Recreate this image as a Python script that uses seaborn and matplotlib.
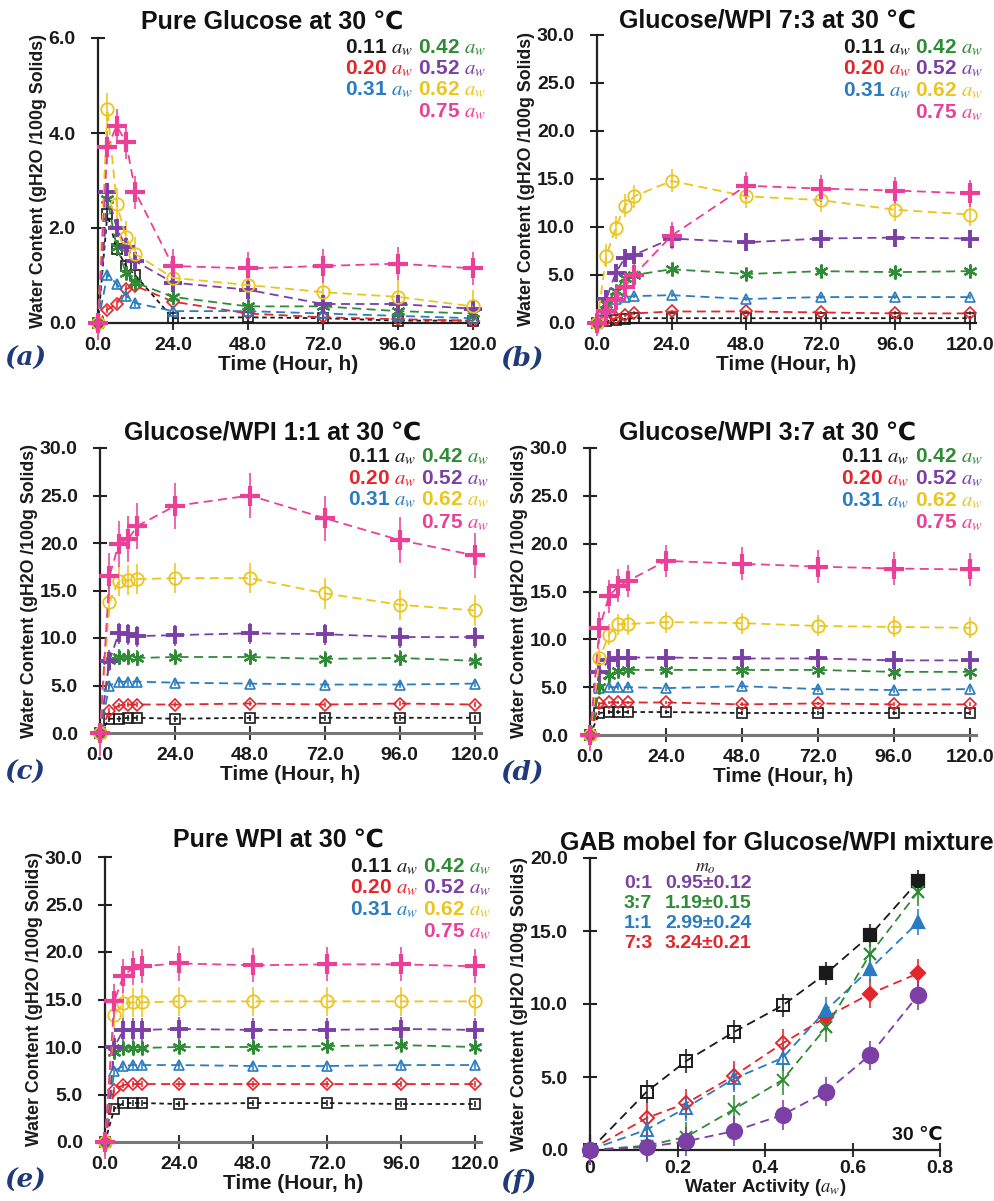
import numpy as np
import pandas as pd
import matplotlib
matplotlib.use("Agg")
import matplotlib.pyplot as plt
from matplotlib.ticker import FormatStrFormatter, FuncFormatter, FixedLocator
import seaborn as sns

# ---------------- data ----------------
times = [0, 3, 6, 9, 12, 24, 48, 72, 96, 120]
aw_levels = ["0.11", "0.20", "0.31", "0.42", "0.52", "0.62", "0.75"]

# (a) Pure glucose
glucose_wc = [
    [0, 2.30, 1.55, 1.20, 1.00, 0.10, 0.12, 0.10, 0.05, 0.05],
    [0, 0.28, 0.40, 0.72, 0.78, 0.45, 0.20, 0.12, 0.08, 0.05],
    [0, 1.02, 0.82, 0.57, 0.42, 0.25, 0.25, 0.20, 0.15, 0.10],
    [0, 2.60, 1.60, 1.05, 0.85, 0.55, 0.35, 0.35, 0.25, 0.20],
    [0, 2.75, 2.00, 1.60, 1.30, 0.85, 0.70, 0.40, 0.40, 0.30],
    [0, 4.50, 2.50, 1.80, 1.45, 0.95, 0.80, 0.65, 0.55, 0.35],
    [0, 3.70, 4.15, 3.80, 2.75, 1.20, 1.15, 1.20, 1.25, 1.15],
]
glucose_err = [0.15, 0.08, 0.08, 0.15, 0.20, 0.35, 0.35]

# (b) Glucose/WPI 7:3
g73_wc = [
    [0, 0.2, 0.3, 0.4, 0.5, 0.5, 0.5, 0.5, 0.5, 0.5],
    [0, 0.3, 0.5, 0.8, 1.0, 1.2, 1.2, 1.1, 1.0, 1.0],
    [0, 1.5, 2.5, 2.7, 2.8, 2.9, 2.5, 2.7, 2.7, 2.7],
    [0, 2.0, 3.3, 4.7, 5.0, 5.6, 5.1, 5.4, 5.3, 5.4],
    [0, 2.5, 5.2, 6.8, 7.1, 8.8, 8.4, 8.8, 8.9, 8.8],
    [0, 7.0, 9.9, 12.2, 13.2, 14.8, 13.2, 12.8, 11.8, 11.3],
    [0, 1.2, 2.4, 3.8, 5.0, 9.1, 14.3, 14.0, 13.8, 13.5],
]
g73_err = [0.1, 0.2, 0.2, 0.3, 0.8, 1.2, 1.4]

# (c) Glucose/WPI 1:1
g11_wc = [
    [0, 1.5, 1.5, 1.6, 1.6, 1.5, 1.6, 1.6, 1.6, 1.6],
    [0, 2.3, 2.9, 3.0, 3.0, 3.0, 3.1, 3.0, 3.1, 3.0],
    [0, 5.0, 5.4, 5.4, 5.4, 5.3, 5.2, 5.1, 5.1, 5.2],
    [0, 7.7, 8.0, 8.0, 7.9, 8.0, 8.0, 7.8, 7.9, 7.6],
    [0, 7.6, 10.5, 10.4, 10.2, 10.3, 10.5, 10.4, 10.1, 10.1],
    [0, 13.8, 16.0, 16.1, 16.2, 16.3, 16.3, 14.7, 13.5, 12.9],
    [0, 16.5, 19.9, 20.4, 21.8, 23.9, 25.0, 22.6, 20.3, 18.7],
]
g11_err = [0.3, 0.3, 0.4, 0.8, 1.1, 1.6, 2.4]

# (d) Glucose/WPI 3:7
g37_wc = [
    [0, 2.3, 2.4, 2.4, 2.4, 2.4, 2.3, 2.3, 2.3, 2.3],
    [0, 3.3, 3.4, 3.4, 3.4, 3.4, 3.2, 3.3, 3.2, 3.2],
    [0, 4.9, 5.0, 5.0, 5.0, 4.9, 5.1, 4.8, 4.7, 4.8],
    [0, 5.0, 6.3, 6.7, 6.8, 6.8, 6.8, 6.8, 6.6, 6.6],
    [0, 6.6, 7.8, 8.0, 8.1, 8.1, 8.0, 8.0, 7.8, 7.8],
    [0, 8.0, 10.5, 11.6, 11.6, 11.8, 11.7, 11.4, 11.3, 11.2],
    [0, 11.2, 14.5, 15.6, 16.1, 18.2, 17.9, 17.6, 17.4, 17.3],
]
g37_err = [0.2, 0.2, 0.3, 0.5, 0.8, 1.1, 1.7]

# (e) Pure WPI
wpi_wc = [
    [0, 3.5, 4.1, 4.1, 4.1, 4.0, 4.1, 4.1, 4.0, 4.0],
    [0, 5.5, 6.0, 6.1, 6.1, 6.1, 6.1, 6.1, 6.1, 6.1],
    [0, 7.5, 8.0, 8.1, 8.1, 8.1, 8.0, 8.0, 8.1, 8.1],
    [0, 9.5, 9.9, 9.9, 9.9, 10.0, 10.0, 10.1, 10.2, 10.0],
    [0, 10.0, 11.8, 11.8, 11.8, 11.9, 11.8, 11.8, 11.9, 11.8],
    [0, 13.4, 14.6, 14.7, 14.7, 14.8, 14.8, 14.8, 14.8, 14.8],
    [0, 14.8, 17.5, 18.3, 18.5, 18.8, 18.6, 18.7, 18.7, 18.5],
]
wpi_err = [0.3, 0.3, 0.4, 0.4, 1.3, 1.5, 1.8]

# (f) GAB model
aw_gab = [0, 0.13, 0.22, 0.33, 0.44, 0.54, 0.64, 0.75]
gab_black = [0, 4.0, 6.1, 8.1, 9.9, 12.1, 14.7, 18.4]
gab_red = [0, 2.2, 3.2, 5.1, 7.3, 9.1, 10.7, 12.1]
gab_blue = [0, 1.4, 2.9, 4.9, 6.3, 9.6, 12.4, 15.6]
gab_green = [0, 0.3, 0.9, 2.8, 4.8, 8.4, 13.4, 17.7]
gab_purple = [0, 0.2, 0.6, 1.3, 2.4, 4.0, 6.5, 10.6]
gab_err = [0.8, 1.0, 0.9, 1.0, 1.0]
gab_ratio = ["0:1", "3:7", "1:1", "7:3"]
gab_mo = ["0.95\u00b10.12", "1.19\u00b10.15", "2.99\u00b10.24", "3.24\u00b10.21"]

panel_titles = ["Pure Glucose at 30 \u2103", "Glucose/WPI 7:3 at 30 \u2103",
                "Glucose/WPI 1:1 at 30 \u2103", "Glucose/WPI 3:7 at 30 \u2103",
                "Pure WPI at 30 \u2103", "GAB mobel for Glucose/WPI mixture"]
panel_letters = ["a", "b", "c", "d", "e", "f"]

# ---------------- style ----------------
sns.set_theme(style="white")
plt.rcParams["font.family"] = ["Liberation Sans", "DejaVu Sans"]
plt.rcParams["mathtext.fontset"] = "stix"

W, H = 995, 1201
fig = plt.figure(figsize=(W / 100, H / 100), dpi=100)

BLACK, RED, BLUE, GREEN = "#1a1a1a", "#e3262b", "#2a7cc0", "#2f8b36"
PURPLE, YELLOW, PINK = "#7b3fa6", "#ecc51c", "#ec3f97"
colors = [BLACK, RED, BLUE, GREEN, PURPLE, YELLOW, PINK]
mk = [
    dict(marker="s", markersize=7, markerfacecolor="none", markeredgewidth=1.2),
    dict(marker="D", markersize=6, markerfacecolor="none", markeredgewidth=1.2),
    dict(marker="^", markersize=7.5, markerfacecolor="none", markeredgewidth=1.2),
    dict(marker=(6, 2, 0), markersize=10, markeredgewidth=1.6),
    dict(marker="+", markersize=13, markeredgewidth=2.8),
    dict(marker="o", markersize=9, markerfacecolor="none", markeredgewidth=1.3),
    dict(marker="+", markersize=15, markeredgewidth=3.0),
]
dashes = [(0, (2.5, 2)), (0, (5, 3)), (0, (5, 3)), (0, (5, 3)),
          (0, (5, 3)), (0, (5, 3)), (0, (5, 3))]

TICK_FS = 14
TITLE_FS = 18
LEG_FS = 15
XLAB_FS = 15
YLAB_FS = 12.8


def px_axes(left, top, right, bottom):
    return fig.add_axes([left / W, 1 - bottom / H, (right - left) / W, (bottom - top) / H])


def style_axes(ax, xlab, bottom_gray=False):
    for s in ["top", "right"]:
        ax.spines[s].set_visible(False)
    ax.spines["left"].set_color("#222222")
    ax.spines["left"].set_linewidth(1.6)
    ax.spines["bottom"].set_color("#777777" if bottom_gray else "#222222")
    ax.spines["bottom"].set_linewidth(2.2 if bottom_gray else 1.6)
    ax.tick_params(axis="y", direction="inout", length=10, width=1.5, color="#222222",
                   pad=11, labelsize=TICK_FS, left=True)
    ax.tick_params(axis="x", direction="inout", length=10, width=1.5, color="#333333",
                   pad=5, labelsize=TICK_FS, bottom=True)
    for lab in ax.get_xticklabels() + ax.get_yticklabels():
        lab.set_fontweight("bold")
        lab.set_color("#1a1a1a")
    ax.set_xlabel(xlab, fontsize=XLAB_FS, fontweight="bold", labelpad=1, color="#1a1a1a")
    ax.set_ylabel("Water Content (gH2O /100g Solids)", fontsize=YLAB_FS, fontweight="bold",
                  labelpad=1, color="#1a1a1a")
    ax.grid(False)


def time_panel(ax, values, errs, ymax):
    for i, lvl in enumerate(aw_levels):
        df = pd.DataFrame({"t": times, "wc": values[i]})
        ax.errorbar(df["t"], df["wc"], yerr=errs[i], fmt="none", ecolor=colors[i],
                    elinewidth=1.4, alpha=0.8, capsize=0, zorder=2, clip_on=False)
        sns.lineplot(data=df, x="t", y="wc", ax=ax, color=colors[i], linestyle=dashes[i],
                     linewidth=1.3, markeredgecolor=colors[i], clip_on=False,
                     zorder=3 + i, sort=False, errorbar=None, **mk[i])
    ax.set_xlim(0, 122)
    ax.set_ylim(0, ymax)
    ax.xaxis.set_major_locator(FixedLocator([0, 24, 48, 72, 96, 120]))
    ax.xaxis.set_major_formatter(FormatStrFormatter("%.1f"))
    ax.yaxis.set_major_formatter(FormatStrFormatter("%.1f"))


def aw_legend(col1_x, col2_x, rows_y):
    pos = [(col1_x, rows_y[0]), (col1_x, rows_y[1]), (col1_x, rows_y[2]),
           (col2_x, rows_y[0]), (col2_x, rows_y[1]), (col2_x, rows_y[2]), (col2_x, rows_y[3])]
    for i, lvl in enumerate(aw_levels):
        x, y = pos[i]
        fig.text(x / W, 1 - y / H, lvl + r" $a_w$", color=colors[i], fontsize=LEG_FS,
                 fontweight="bold", ha="left", va="center")


def letter(cx, cy, ch):
    fig.text(cx / W, 1 - cy / H, "(" + ch + ")", fontsize=19, fontweight="bold",
             fontstyle="italic", family="DejaVu Serif", color="#1f3a78",
             ha="center", va="center")


def title(cx, cy, s):
    fig.text(cx / W, 1 - cy / H, s, fontsize=TITLE_FS, fontweight="bold", ha="center",
             va="center", color="#111111")


xlab_t = "Time (Hour, h)"

# (a)
ax_a = px_axes(98, 38, 479, 323)
time_panel(ax_a, glucose_wc, glucose_err, 6)
ax_a.yaxis.set_major_locator(FixedLocator([0, 2, 4, 6]))
style_axes(ax_a, xlab_t)
title(272, 22, panel_titles[0])
aw_legend(345, 418, [48, 69, 90, 112])
letter(25, 358, panel_letters[0])

# (b)
ax_b = px_axes(597, 35, 976, 323)
time_panel(ax_b, g73_wc, g73_err, 30)
ax_b.yaxis.set_major_locator(FixedLocator([0, 5, 10, 15, 20, 25, 30]))
style_axes(ax_b, xlab_t)
title(768, 20, panel_titles[1])
aw_legend(843, 915, [48, 69, 91, 113])
letter(522, 358, panel_letters[1])

# (c)
ax_c = px_axes(100, 448, 481, 733)
time_panel(ax_c, g11_wc, g11_err, 30)
ax_c.yaxis.set_major_locator(FixedLocator([0, 5, 10, 15, 20, 25, 30]))
style_axes(ax_c, xlab_t, bottom_gray=True)
title(273, 432, panel_titles[2])
aw_legend(348, 421, [457, 479, 500, 523])
letter(25, 772, panel_letters[2])

# (d)
ax_d = px_axes(590, 448, 976, 735)
time_panel(ax_d, g37_wc, g37_err, 30)
ax_d.yaxis.set_major_locator(FixedLocator([0, 5, 10, 15, 20, 25, 30]))
style_axes(ax_d, xlab_t, bottom_gray=True)
title(768, 432, panel_titles[3])
aw_legend(841, 915, [457, 479, 501, 523])
letter(522, 772, panel_letters[3])

# (e)
ax_e = px_axes(105, 857, 481, 1142)
time_panel(ax_e, wpi_wc, wpi_err, 30)
ax_e.yaxis.set_major_locator(FixedLocator([0, 5, 10, 15, 20, 25, 30]))
style_axes(ax_e, xlab_t, bottom_gray=True)
title(278, 840, panel_titles[4])
aw_legend(350, 423, [867, 888, 910, 932])
letter(25, 1180, panel_letters[4])

# (f)
ax_f = px_axes(590, 858, 940, 1150)
gab_series = [gab_black, gab_red, gab_blue, gab_green, gab_purple]
gab_colors = [BLACK, RED, BLUE, GREEN, PURPLE]
gab_mk = [dict(marker="s", markersize=9), dict(marker="D", markersize=7),
          dict(marker="^", markersize=8), dict(marker="x", markersize=9),
          dict(marker="o", markersize=11)]
gab_open_low = [True, True, True, False, False]
for j, ys in enumerate(gab_series):
    c = gab_colors[j]
    df = pd.DataFrame({"aw": aw_gab, "wc": ys})
    ax_f.errorbar(df["aw"], df["wc"], yerr=gab_err[j], fmt="none", ecolor=c,
                  elinewidth=1.5, alpha=0.8, capsize=0, zorder=2, clip_on=False)
    sns.lineplot(data=df, x="aw", y="wc", ax=ax_f, color=c, linestyle=(0, (5, 3)),
                 linewidth=1.3, zorder=3, errorbar=None, clip_on=False)
    low = df[df["aw"] < 0.5]
    high = df[df["aw"] >= 0.5]
    fc_low = "none" if gab_open_low[j] else c
    sns.lineplot(data=low, x="aw", y="wc", ax=ax_f, color=c, linestyle="", errorbar=None,
                 markerfacecolor=fc_low, markeredgecolor=c, markeredgewidth=1.4,
                 zorder=4 + j, clip_on=False, **gab_mk[j])
    sns.lineplot(data=high, x="aw", y="wc", ax=ax_f, color=c, linestyle="", errorbar=None,
                 markerfacecolor=c, markeredgecolor=c, markeredgewidth=1.6,
                 zorder=4 + j, clip_on=False, **gab_mk[j])
ax_f.set_xlim(0, 0.8)
ax_f.set_ylim(0, 20)
ax_f.xaxis.set_major_locator(FixedLocator([0, 0.2, 0.4, 0.6, 0.8]))
ax_f.xaxis.set_major_formatter(FuncFormatter(lambda v, p: "0" if abs(v) < 1e-9 else f"{v:.1f}"))
ax_f.yaxis.set_major_locator(FixedLocator([0, 5, 10, 15, 20]))
ax_f.yaxis.set_major_formatter(FormatStrFormatter("%.1f"))
style_axes(ax_f, r"Water Activity ($a_w$)")
ax_f.tick_params(axis="x", pad=2)
ax_f.xaxis.label.set_fontsize(13.5)
ax_f.xaxis.labelpad = 0
title(777, 842, panel_titles[5])
fig.text(705 / W, 1 - 867 / H, r"$m_o$", fontsize=13, ha="center", va="center", color="#222222")
legend_cols = [PURPLE, GREEN, BLUE, RED]
for k in range(4):
    yy = 1 - (884 + k * 19.7) / H
    fig.text(624 / W, yy, gab_ratio[k], color=legend_cols[k], fontsize=14,
             fontweight="bold", ha="left", va="center")
    fig.text(665 / W, yy, gab_mo[k], color=legend_cols[k], fontsize=14,
             fontweight="bold", ha="left", va="center")
fig.text(917 / W, 1 - 1135 / H, "30 \u2103", fontsize=14, fontweight="bold",
         ha="center", va="center", color="#111111")
letter(519, 1182, panel_letters[5])

fig.savefig("out.png", dpi=100)
